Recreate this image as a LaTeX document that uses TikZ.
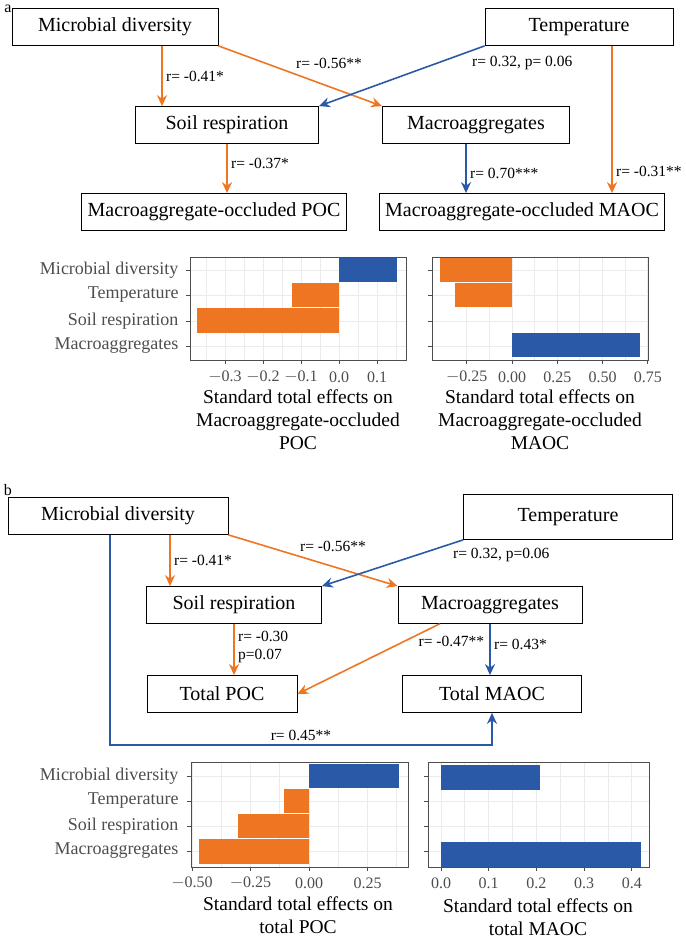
\documentclass[tikz,border=0pt]{standalone}
\usepackage{fontspec}
\setmainfont{Liberation Serif}
\usetikzlibrary{arrows.meta}
\definecolor{sorange}{HTML}{EE7623}
\definecolor{sblue}{HTML}{2A59A8}
\definecolor{axgray}{HTML}{4D4D4D}
\definecolor{gridgray}{HTML}{EBEBEB}
\begin{document}
\begin{tikzpicture}[x=1pt,y=-1pt,
    box/.style={draw, thick, minimum height=37pt, inner xsep=6pt, font=\fontsize{20}{22}\selectfont},
    link/.style={-{Stealth[length=11pt,width=10pt]}, line width=1.6pt},
    neglink/.style={link, sorange},
    poslink/.style={link, sblue},
    coef/.style={font=\fontsize{15.5}{18}\selectfont, align=left, text=black},
    cat/.style={font=\fontsize{18}{20}\selectfont, text=axgray, anchor=east},
    ticklab/.style={font=\fontsize{16}{18}\selectfont, text=axgray},
    axtitle/.style={font=\fontsize{19.5}{23}\selectfont, align=center, anchor=north},
    frame/.style={draw=axgray, line width=0.8pt},
    gridline/.style={draw=gridgray, line width=0.8pt}]
  \useasboundingbox (0,0) rectangle (685,947);

  % panel a: path diagram
  \node[font=\fontsize{16}{18}\selectfont] at (8,9) (lab a) {a};
  \node[box, minimum width=206pt] at (115,27) (md a) {Microbial diversity};
  \node[box, minimum width=188pt] at (579,27) (temp a) {Temperature};
  \node[box, minimum width=183pt] at (227,125) (sr a) {Soil respiration};
  \node[box, minimum width=187pt] at (476,125) (ma a) {Macroaggregates};
  \node[box, minimum width=264pt] at (214,212) (poc a) {Macroaggregate-occluded POC};
  \node[box, minimum width=280pt] at (522,212) (maoc a) {Macroaggregate-occluded MAOC};

  \draw[neglink] (md a.south -| 162,0) -- node[coef, right] {r= -0.41*} (sr a.north -| 162,0);
  \draw[neglink] (md a.south east) -- node[coef, above right, pos=0.45] {r= -0.56**} (ma a.north west);
  \draw[poslink] (temp a.south west) -- node[coef, below right, pos=0.1] {r= 0.32, p= 0.06} (sr a.north east);
  \draw[neglink] (sr a.south) -- node[coef, right, pos=0.4] {r= -0.37*} (poc a.north -| sr a.south);
  \draw[poslink] (ma a.south -| 466,0) -- node[coef, right, pos=0.6] {r= 0.70***} (maoc a.north -| 466,0);
  \draw[neglink] (temp a.south -| 612,0) -- node[coef, right, pos=0.85] {r= -0.31**} (maoc a.north -| 612,0);

  % panel a: total effects on POC (0.1 = 38pt, zero at 339)
  \begin{scope}
    \foreach \v in {-0.35,-0.3,...,0.16} \draw[gridline] (339+\v*380,257) -- (339+\v*380,360);
    \foreach \y in {270,295,321,346} \draw[gridline] (190,\y) -- (406,\y);
    \fill[sblue] (339,258) rectangle (397,282);
    \fill[sorange] (292,283) rectangle (339,307);
    \fill[sorange] (197,308) rectangle (339,333);
    \draw[frame] (190,257) rectangle (406,360);
    \foreach \v/\t in {-0.3/$-$0.3,-0.2/$-$0.2,-0.1/$-$0.1,0/0.0,0.1/0.1} {
      \draw[frame] (339+\v*380,360) -- (339+\v*380,364);
      \node[ticklab] at (339+\v*380,377) {\t};
    }
    \foreach \y/\t in {270/Microbial diversity,295/Temperature,321/Soil respiration,346/Macroaggregates} {
      \draw[frame] (186,\y) -- (190,\y);
      \node[cat] at (182,\y) {\t};
    }
    \node[axtitle] at (298,386) {Standard total effects on\\Macroaggregate-occluded\\POC};
  \end{scope}

  % panel a: total effects on MAOC (0.25 = 45.3pt, zero at 512)
  \begin{scope}
    \foreach \v in {-0.25,-0.125,...,0.76} \draw[gridline] (512+\v*181,257) -- (512+\v*181,360);
    \foreach \y in {270,295,321,346} \draw[gridline] (432,\y) -- (648,\y);
    \fill[sorange] (440,258) rectangle (512,282);
    \fill[sorange] (455,283) rectangle (512,307);
    \fill[sblue] (512,333) rectangle (640,357);
    \draw[frame] (432,257) rectangle (648,360);
    \foreach \v/\t in {-0.25/$-$0.25,0/0.00,0.25/0.25,0.5/0.50,0.75/0.75} {
      \draw[frame] (512+\v*181,360) -- (512+\v*181,364);
      \node[ticklab] at (512+\v*181,377) {\t};
    }
    \foreach \y in {270,295,321,346} \draw[frame] (428,\y) -- (432,\y);
    \node[axtitle] at (540,386) {Standard total effects on\\Macroaggregate-occluded\\MAOC};
  \end{scope}

  % panel b: path diagram
  \node[font=\fontsize{16}{18}\selectfont] at (8,490) (lab b) {b};
  \node[box, minimum width=220pt] at (118,516) (md b) {Microbial diversity};
  \node[box, minimum width=209pt, minimum height=45pt] at (568,517) (temp b) {Temperature};
  \node[box, minimum width=175pt] at (234,605) (sr b) {Soil respiration};
  \node[box, minimum width=184pt] at (490,605) (ma b) {Macroaggregates};
  \node[box, minimum width=150pt] at (222,694) (poc b) {Total POC};
  \node[box, minimum width=179pt] at (492,694) (maoc b) {Total MAOC};

  \draw[neglink] (md b.south -| 170,0) -- node[coef, right] {r= -0.41*} (sr b.north -| 170,0);
  \draw[neglink] (md b.south east) -- node[coef, above right, pos=0.4] {r= -0.56**} (ma b.north west);
  \draw[poslink] (temp b.south west) -- node[coef, below right, pos=0.1] {r= 0.32, p=0.06} (sr b.north east);
  \draw[neglink] (sr b.south) -- node[coef, right, pos=0.45] {r= -0.30\\p=0.07} (poc b.north -| sr b.south);
  \coordinate (ma out) at ([xshift=42pt]ma b.south west);
  \draw[neglink] (ma out) -- node[coef, anchor=north west, pos=0.12, xshift=-8pt] {r= -0.47**} (poc b.east);
  \draw[poslink] (ma b.south) -- node[coef, right, pos=0.4] {r= 0.43*} (maoc b.north -| ma b.south);
  \draw[poslink] (md b.south -| 110,0) |- (maoc b.south |- 0,745) node[coef, above, pos=0.75] {r= 0.45**} -- (maoc b.south);

  % panel b: total effects on POC (0.25 = 58.5pt, zero at 309)
  \begin{scope}
    \foreach \v in {-0.5,-0.375,...,0.40} \draw[gridline] (309+\v*234,762) -- (309+\v*234,867);
    \foreach \y in {776,801,826,851} \draw[gridline] (191,\y) -- (408,\y);
    \fill[sblue] (309,764) rectangle (399,788);
    \fill[sorange] (284,789) rectangle (309,813);
    \fill[sorange] (238,814) rectangle (309,838);
    \fill[sorange] (199,839) rectangle (309,864);
    \draw[frame] (191,762) rectangle (408,867);
    \foreach \v/\t in {-0.5/$-$0.50,-0.25/$-$0.25,0/0.00,0.25/0.25} {
      \draw[frame] (309+\v*234,867) -- (309+\v*234,871);
      \node[ticklab] at (309+\v*234,883) {\t};
    }
    \foreach \y/\t in {776/Microbial diversity,801/Temperature,826/Soil respiration,851/Macroaggregates} {
      \draw[frame] (187,\y) -- (191,\y);
      \node[cat] at (182,\y) {\t};
    }
    \node[axtitle] at (298,893) {Standard total effects on\\total POC};
  \end{scope}

  % panel b: total effects on MAOC (0.1 = 47.7pt, zero at 441)
  \begin{scope}
    \foreach \v in {0,0.05,...,0.44} \draw[gridline] (441+\v*477,762) -- (441+\v*477,867);
    \foreach \y in {776,801,826,851} \draw[gridline] (428,\y) -- (649,\y);
    \fill[sblue] (441,765) rectangle (540,790);
    \fill[sblue] (441,842) rectangle (641,867);
    \draw[frame] (428,762) rectangle (649,867);
    \foreach \v/\t in {0/0.0,0.1/0.1,0.2/0.2,0.3/0.3,0.4/0.4} {
      \draw[frame] (441+\v*477,867) -- (441+\v*477,871);
      \node[ticklab] at (441+\v*477,883) {\t};
    }
    \foreach \y in {776,801,826,851} \draw[frame] (424,\y) -- (428,\y);
    \node[axtitle] at (538,895) {Standard total effects on\\total MAOC};
  \end{scope}
\end{tikzpicture}
\end{document}
